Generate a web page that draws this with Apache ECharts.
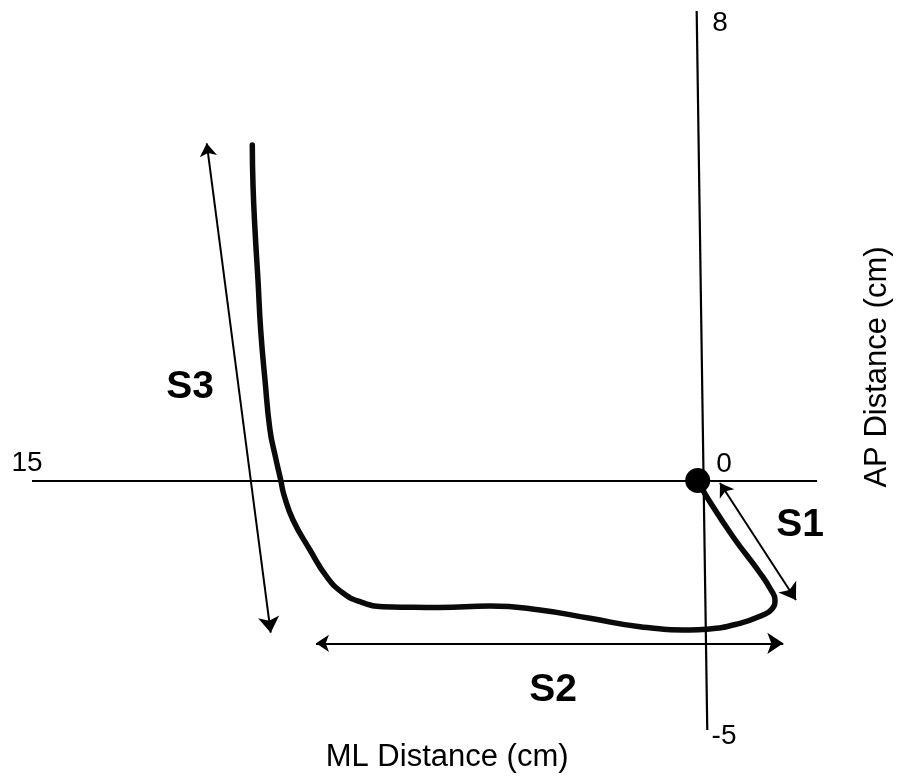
<!DOCTYPE html>
<html>
<head>
<meta charset="utf-8">
<script src="https://cdn.jsdelivr.net/npm/echarts@6/dist/echarts.min.js"></script>
<style>html,body{margin:0;padding:0;background:#fff;}#c{width:901px;height:781px;}</style>
</head>
<body>
<div id="c"></div>
<script>
// ML (x) and AP (y) coordinates of the centre-of-pressure path, cm
var pathX = [0, -0.203, -0.795, -1.404, -1.652, -1.742, -1.674, -1.471, -0.953, -0.203, 0.173, 1.300, 2.427, 3.553, 4.680, 5.807, 6.483, 7.091, 7.609, 7.993, 8.360, 8.736, 9.119, 9.322, 9.396, 9.524, 9.637, 9.750, 9.847, 9.908, 9.975, 10.020, 10.036];
var pathY = [0, -0.276, -0.958, -1.576, -1.866, -2.036, -2.189, -2.291, -2.433, -2.535, -2.547, -2.491, -2.348, -2.206, -2.138, -2.164, -2.160, -2.150, -2.065, -1.917, -1.639, -1.184, -0.673, -0.247, 0.009, 0.434, 0.860, 1.712, 2.564, 3.416, 4.268, 5.035, 5.716];

// double-headed segment arrows
var segNames = ['S1', 'S2', 'S3'];
var segStart = [[-0.502, -0.043], [8.601, -2.774], [11.063, 5.745]];
var segEnd = [[-2.214, -2.036], [-1.929, -2.774], [9.621, -2.593]];
var segLabelPos = [[-2.305, -0.758], [3.260, -3.570], [11.436, 1.593]];

// axis lines and their end labels
var xAxisLine = [[15, 0], [-2.69, 0]];
var yAxisLine = [[0.023, 8], [-0.216, -4.251]];
var xTickLabels = ['15', '0'];
var xTickPos = [[15.112, 0.298], [-0.593, 0.281]];
var yTickLabels = ['8', '-5'];
var yTickPos = [[-0.502, 7.795], [-0.593, -4.353]];

var xTitle = 'ML Distance (cm)';
var yTitle = 'AP Distance (cm)';
var xTitlePos = [5.646, -4.711];
var yTitlePos = [-4.042, 1.934];

var FONT = '"Liberation Sans", Arial, sans-serif';

var pathData = pathX.map(function (x, i) { return [x, pathY[i]]; });

var tickData = [];
xTickLabels.forEach(function (t, i) { tickData.push({ value: xTickPos[i], name: t }); });
yTickLabels.forEach(function (t, i) { tickData.push({ value: yTickPos[i], name: t }); });

var segLabelData = segNames.map(function (n, i) { return { value: segLabelPos[i], name: n }; });

function textSeries(data, size, extra) {
  var label = { show: true, position: 'inside', formatter: '{b}', color: '#000', opacity: 1, fontSize: size, fontFamily: FONT };
  for (var k in extra) label[k] = extra[k];
  return {
    type: 'scatter', data: data, symbolSize: 1, silent: true,
    itemStyle: { color: 'rgba(0,0,0,0)', opacity: 1 },
    label: label, z: 5
  };
}

var chart = echarts.init(document.getElementById('c'), null, { renderer: 'canvas' });
chart.setOption({
  animation: false,
  backgroundColor: '#fff',
  grid: { left: 0, top: 0, width: 901, height: 781, containLabel: false },
  xAxis: { type: 'value', min: -4.581, max: 15.721, inverse: true, show: false, splitLine: { show: false } },
  yAxis: { type: 'value', min: -5.120, max: 8.187, show: false, splitLine: { show: false } },
  series: [
    {
      type: 'lines', coordinateSystem: 'cartesian2d', symbol: 'none', silent: true,
      lineStyle: { color: '#000', width: 2.2, opacity: 1 },
      data: [{ coords: xAxisLine }, { coords: yAxisLine }], z: 1
    },
    {
      type: 'lines', coordinateSystem: 'cartesian2d', symbol: ['arrow', 'arrow'], symbolSize: [13, 16], silent: true,
      lineStyle: { color: '#000', width: 2, opacity: 1 },
      data: segNames.map(function (n, i) { return { coords: [segStart[i], segEnd[i]] }; }), z: 2
    },
    {
      type: 'line', data: pathData, showSymbol: false, smooth: 0.5, silent: true,
      lineStyle: { color: '#0a0a0a', width: 5.5, cap: 'round', join: 'round', opacity: 1 }, z: 3
    },
    {
      type: 'scatter', data: [[0, 0]], symbolSize: 25, silent: true,
      itemStyle: { color: '#000', opacity: 1 }, z: 4
    },
    textSeries(tickData, 28, {}),
    textSeries(segLabelData, 39, { fontWeight: 'bold' }),
    textSeries([{ value: xTitlePos, name: xTitle }], 31, {}),
    textSeries([{ value: yTitlePos, name: yTitle }], 31, { rotate: 90 })
  ]
});
</script>
</body>
</html>
